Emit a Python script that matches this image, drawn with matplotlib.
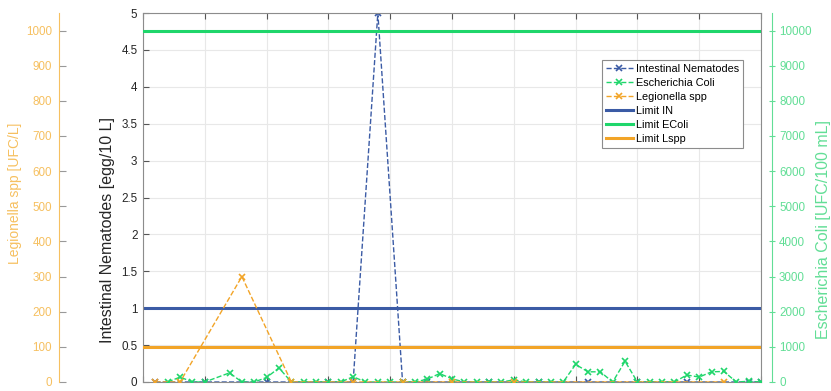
import matplotlib.pyplot as plt
import numpy as np

plt.rcParams['font.family'] = ['Liberation Sans', 'DejaVu Sans']

# sample number -> value
nem_x = [1, 5, 10, 15, 17, 19, 21, 23, 28, 32, 36, 40, 44, 49, 50]
nem_y = [0, 0, 0, 0, 0, 5, 0, 0, 0, 0, 0, 0, 0, 0, 0]

eco_x = [2, 3, 4, 5, 7, 8, 9, 10, 11, 12, 13, 14, 15, 16, 17, 18, 19, 20,
         21, 22, 23, 24, 25, 26, 27, 28, 29, 30, 31, 32, 33, 34, 35, 36, 37,
         38, 39, 40, 41, 42, 43, 44, 45, 46, 47, 48, 49, 50]
eco_y = [0, 140, 0, 0, 260, 0, 0, 130, 400, 0, 0, 0, 0, 0, 150, 0, 0, 0,
         0, 0, 80, 240, 90, 0, 0, 0, 0, 60, 0, 0, 0, 0, 500, 290, 290,
         0, 590, 0, 0, 0, 0, 200, 140, 290, 300, 0, 20, 0]

leg_x = [1, 3, 8, 12, 17, 21, 25, 30, 47]
leg_y = [0, 0, 300, 0, 0, 0, 0, 0, 0]

limit_in = 1
limit_ecoli = 10000
limit_lspp = 100

c_blue = '#3B5BA5'
c_green = '#1FD66B'
c_orange = '#F2A427'
c_green_ax = '#62DE96'
c_orange_ax = '#F6C060'

fig = plt.figure(figsize=(8.31, 3.91), dpi=100)
ax = fig.add_axes([143/831, 9/391, 618/831, 369/391])
ax2 = ax.twinx()
ax3 = ax.twinx()

# intestinal nematodes (host axis)
l1, = ax.plot(nem_x, nem_y, '--x', color=c_blue, lw=1, ms=5, mew=1.2,
              label='Intestinal Nematodes')
l4 = ax.axhline(limit_in, color=c_blue, lw=2.2, label='Limit IN')
ax.set_xlim(0, 50)
ax.set_ylim(0, 5)
ax.set_xticks(np.arange(0, 51, 5))
ax.set_yticks(np.arange(0, 5.01, 0.5))
ax.set_yticklabels(['0', '0.5', '1', '1.5', '2', '2.5', '3', '3.5', '4', '4.5', '5'])
ax.grid(True, color='#E8E8E8', lw=0.8)
ax.tick_params(axis='both', direction='in', length=4, color='#555555',
               labelsize=8.4, labelcolor='#262626', top=True,
               labelbottom=False)
ax.tick_params(axis='y', pad=4)
for s in ax.spines.values():
    s.set_color('#8C8C8C')
ax.set_ylabel('Intestinal Nematodes [egg/10 L]', fontsize=11.5, color='#262626')
ax.yaxis.set_label_coords(-0.045, 0.412)

# escherichia coli (right axis)
l2, = ax2.plot(eco_x, eco_y, '--x', color=c_green, lw=1, ms=5, mew=1.2,
               label='Escherichia Coli')
l5 = ax2.axhline(limit_ecoli, color=c_green, lw=2.2, label='Limit EColi')
ax2.set_ylim(0, 10500)
ax2.set_yticks(np.arange(0, 10001, 1000))
ax2.spines['right'].set_position(('outward', 8))
ax2.spines['right'].set_color(c_green_ax)
for k in ['left', 'top', 'bottom']:
    ax2.spines[k].set_visible(False)
ax2.tick_params(axis='y', direction='inout', length=4, color=c_green_ax,
                labelsize=8.4, labelcolor=c_green_ax, pad=3)
ax2.set_ylabel('Escherichia Coli [UFC/100 mL]', fontsize=11.5, color=c_green_ax)
ax2.yaxis.set_label_coords(1.089, 0.412)

# legionella (outer left axis)
l3, = ax3.plot(leg_x, leg_y, '--x', color=c_orange, lw=1, ms=5, mew=1.2,
               label='Legionella spp')
l6 = ax3.axhline(limit_lspp, color=c_orange, lw=2.2, label='Limit Lspp')
ax3.set_ylim(0, 1050)
ax3.set_yticks(np.arange(0, 1001, 100))
ax3.yaxis.set_ticks_position('left')
ax3.yaxis.set_label_position('left')
ax3.spines['left'].set_position(('outward', 60.5))
ax3.spines['left'].set_visible(True)
ax3.spines['left'].set_color(c_orange_ax)
for k in ['right', 'top', 'bottom']:
    ax3.spines[k].set_visible(False)
ax3.tick_params(axis='y', direction='in', length=5, color='#999999',
                labelsize=8.4, labelcolor=c_orange_ax, pad=5)
ax3.set_ylabel('Legionella spp [UFC/L]', fontsize=10, color=c_orange_ax)
ax3.yaxis.set_label_coords(-0.196, 0.51)

leg = ax3.legend(handles=[l1, l2, l3, l4, l5, l6], loc='upper right',
                 bbox_to_anchor=(0.971, 0.873), borderaxespad=0,
                 fontsize=7.8, frameon=True, fancybox=False, edgecolor='#8C8C8C',
                 framealpha=1, handlelength=2.5, handletextpad=0.3,
                 labelspacing=0.38, borderpad=0.35)
leg.get_frame().set_linewidth(0.8)

fig.savefig('out.png', dpi=100)
